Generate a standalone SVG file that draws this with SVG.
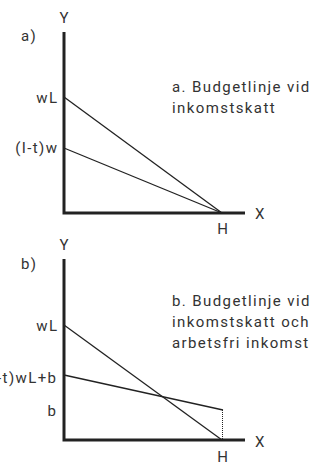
<svg xmlns="http://www.w3.org/2000/svg" width="320" height="464" viewBox="0 0 320 464">
<style>
text{font-family:Roboto,"Liberation Sans",sans-serif;font-size:15px;letter-spacing:1.4px;fill:#333}
.r{text-anchor:end}
.m{text-anchor:middle}
.ax{stroke:#222;stroke-width:3;fill:none}
.ln{stroke:#222;stroke-width:1.3;fill:none}
.dt{stroke:#222;stroke-width:1;stroke-dasharray:1 1;fill:none}
</style>
<rect width="320" height="464" fill="#fff"/>
<g id="chartA">
<g id="axesA">
<path class="ax" d="M64,32 V213 H245"/>
</g>
<g id="labelsA">
<text class="m" x="64.7" y="23">Y</text>
<text x="21" y="41">a)</text>
<text class="r" x="58.4" y="103">wL</text>
<text class="r" x="58.4" y="153">(I-t)w</text>
<text x="255" y="219">X</text>
<text class="m" x="223.2" y="234">H</text>
<text x="172" y="92">a. Budgetlinje vid</text>
<text x="172" y="113">inkomstskatt</text>
</g>
<g id="connectorsA">
<path class="ln" d="M64,97 L222,213"/>
<path class="ln" d="M64,148 L222,213"/>
</g>
</g>
<g id="chartB">
<g id="axesB">
<path class="ax" d="M64,259 V440 H245"/>
</g>
<g id="labelsB">
<text class="m" x="64.7" y="250">Y</text>
<text x="21" y="269">b)</text>
<text class="r" x="58.4" y="331">wL</text>
<text class="r" x="57.4" y="383">(I-t)wL+b</text>
<text class="r" x="57.4" y="416">b</text>
<text x="255" y="447">X</text>
<text class="m" x="223.2" y="462">H</text>
<text x="172" y="306">b. Budgetlinje vid</text>
<text x="172" y="327">inkomstskatt och</text>
<text x="172" y="348">arbetsfri inkomst</text>
</g>
<g id="connectorsB">
<path class="ln" d="M64,325 L222,440"/>
<path class="ln" d="M64,375 L223,410"/>
<path class="dt" d="M222.5,410 V440"/>
</g>
</g>
</svg>
